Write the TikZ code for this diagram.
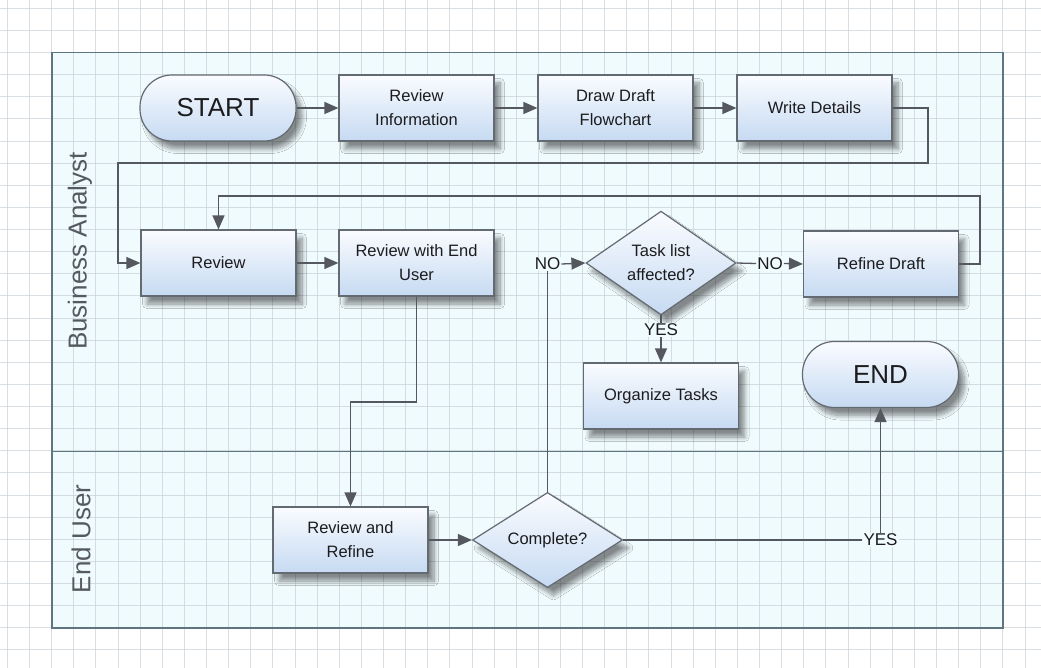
\documentclass[tikz,border=0pt]{standalone}
\usepackage{fontspec}
\setmainfont{Liberation Sans}
\usetikzlibrary{arrows.meta,shapes.geometric,shadows.blur}

\definecolor{poolfill}{RGB}{240,251,253}
\definecolor{gridline}{RGB}{200,208,214}
\definecolor{poolline}{RGB}{95,118,128}
\definecolor{boxline}{RGB}{100,106,114}
\definecolor{boxtop}{RGB}{250,252,255}
\definecolor{boxbot}{RGB}{198,218,242}
\definecolor{flow}{RGB}{85,89,95}
\definecolor{ink}{RGB}{28,28,30}
\definecolor{lanetext}{RGB}{85,90,95}

\begin{document}
\begin{tikzpicture}[x=1pt,y=-1pt,
  shapebase/.style={draw=boxline, line width=1.2pt, top color=boxtop, bottom color=boxbot,
    text=ink, font=\fontsize{16.5}{24}\selectfont, align=center, inner sep=0pt,
    blur shadow={shadow xshift=6pt, shadow yshift=-8pt, shadow blur steps=10,
      shadow blur radius=4.5pt, shadow opacity=45}},
  task/.style={shapebase, rectangle, minimum width=155pt, minimum height=66pt},
  terminal/.style={shapebase, rectangle, rounded corners=32pt, minimum width=156pt,
    minimum height=66pt, font=\fontsize{26}{30}\selectfont},
  decision/.style={shapebase, diamond, minimum width=150pt, minimum height=88pt},
  flowline/.style={draw=flow, line width=1.3pt},
  flowarrow/.style={flowline, -{Triangle[length=14pt,width=12pt]}},
  edgelabel/.style={fill=poolfill, inner sep=1pt, text=ink, font=\fontsize{17}{20}\selectfont},
  lanelabel/.style={rotate=90, text=lanetext, font=\fontsize{26}{30}\selectfont}
]
\useasboundingbox (0,0) rectangle (1041,668);
\fill[white] (0,0) rectangle (1041,668);

% pool background
\fill[poolfill] (52,52.5) rectangle (1003,628);

% drawing grid
\foreach \i in {0,...,46}
  \draw[gridline, line width=0.8pt, opacity=0.7] ({7.4+22.12*\i},0) -- ({7.4+22.12*\i},668);
\foreach \j in {0,...,29}
  \draw[gridline, line width=0.8pt, opacity=0.7] (0,{8.3+22.12*\j}) -- (1041,{8.3+22.12*\j});

% pool and lanes
\draw[poolline, line width=1.3pt] (52,52.5) rectangle (1003,628);
\draw[poolline, line width=1.3pt] (52,451.5) -- (1003,451.5);
\node[lanelabel] (laneBA) at (80,251) {Business Analyst};
\node[lanelabel] (laneEU) at (81,539) {End User};

% process steps
\node[terminal] (start) at (218,108) {START};
\node[task] (revinfo) at (416.5,108) {Review\\Information};
\node[task] (draft) at (615.5,108) {Draw Draft\\Flowchart};
\node[task] (details) at (814.5,108) {Write Details};
\node[task] (review) at (218.5,263) {Review};
\node[task] (revuser) at (416.5,263) {Review with End\\User};
\node[decision] (affected) at (661,263) {Task list\\affected?};
\node[task] (refine) at (881,264) {Refine Draft};
\node[task] (organize) at (661,396) {Organize Tasks};
\node[terminal] (end) at (880.5,374.5) {END};
\node[task] (revrefine) at (350.5,540) {Review and\\Refine};
\node[decision] (complete) at (547.5,540) {Complete?};

% bend points
\coordinate (wdRight) at (928,163);
\coordinate (wdLeft) at (118,163);
\coordinate (userDrop) at (384,402);
\coordinate (rdRight) at (980,196);

% branch labels
\node[edgelabel] (noLeft) at (547.5,264) {NO};
\node[edgelabel] (noRight) at (770,263.5) {NO};
\node[edgelabel] (yesTask) at (661,330) {YES};
\node[edgelabel] (yesEnd) at (880.5,540) {YES};

% connectors
\draw[flowarrow] (start) -- (revinfo);
\draw[flowarrow] (revinfo) -- (draft);
\draw[flowarrow] (draft) -- (details);
\draw[flowarrow] (details.east) -| (wdRight) -- (wdLeft) |- (review.west);
\draw[flowarrow] (review) -- (revuser);
\draw[flowarrow] (revuser.south) |- (userDrop) -| (revrefine.north);
\draw[flowarrow] (revrefine) -- (complete);
\draw[flowline] (complete.north) -- (noLeft.south);
\draw[flowarrow] (noLeft.east) -- (affected.west);
\draw[flowline] (affected.east) -- (noRight.west);
\draw[flowarrow] (noRight.east) -- (refine.west);
\draw[flowarrow] (refine.east) -| (rdRight) -| (review.north);
\draw[flowline] (affected.south) -- (yesTask.north);
\draw[flowarrow] (yesTask.south) -- (organize.north);
\draw[flowline] (complete.east) -- (yesEnd.west);
\draw[flowarrow] (yesEnd.north) -- (end.south);
\end{tikzpicture}
\end{document}
